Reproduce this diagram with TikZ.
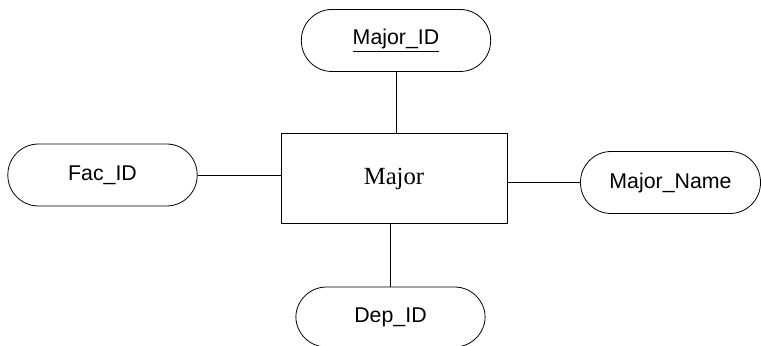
\documentclass[tikz,border=0pt]{standalone}
\usepackage{fontspec}
\setmainfont{Liberation Sans}
\newfontfamily\entfont{Liberation Serif}
\usetikzlibrary{positioning}

\begin{document}
\begin{tikzpicture}[x=0.75pt, y=-0.75pt, line width=0.6pt,
    attr/.style={draw, rounded corners=23pt, minimum width=142pt, minimum height=46.5pt, font=\fontsize{16}{18}\selectfont},
    entity/.style={draw, minimum width=169.5pt, minimum height=68pt, font=\entfont\fontsize{18.5}{20}\selectfont}]
    \useasboundingbox (0,0) rectangle (761,346);
    \node[entity] (major) at (394,178.5) {Major};
    \node[attr] (majorid) at (396,40.5) {\underline{Major\_ID}};
    \node[attr] (facid) at (102.5,175) {Fac\_ID};
    \node[attr, minimum width=135pt] (majorname) at (670.5,182.5) {Major\_Name};
    \node[attr, minimum height=45pt] (depid) at (390.5,317) {Dep\_ID};
    \draw (majorid.south) -- (majorid.south |- major.north);
    \draw (facid.east) -- (facid.east -| major.west);
    \draw (majorname.west) -- (majorname.west -| major.east);
    \draw (depid.north) -- (depid.north |- major.south);
\end{tikzpicture}
\end{document}
